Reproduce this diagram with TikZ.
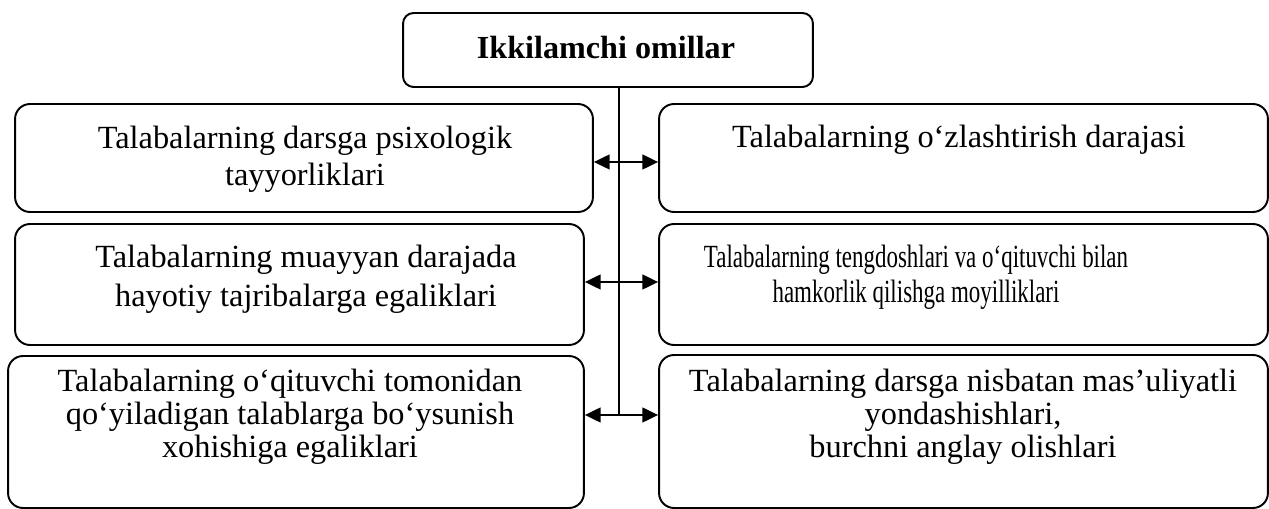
\documentclass[tikz,border=0pt]{standalone}
\usepackage{fontspec}
\setmainfont{Liberation Serif}
\newfontfamily\narrowfont[FakeStretch=0.71]{Liberation Serif}
\usetikzlibrary{arrows.meta,positioning}

\begin{document}
\begin{tikzpicture}[
  x=0.02cm, y=-0.02cm,
  box/.style={draw, line width=1.1pt, rounded corners=8.5pt, inner sep=0pt},
  txt/.style={align=center, inner sep=0pt,
              font=\fontsize{18.4pt}{21.2pt}\selectfont},
  tight/.style={font=\fontsize{18.4pt}{18.9pt}\selectfont},
  link/.style={line width=1pt, {Triangle[length=9pt,width=8.5pt]}-{Triangle[length=9pt,width=8.5pt]}},
]
  \useasboundingbox (0,0) rectangle (1269,509);
  %% head
  \node[box, rounded corners=6pt, minimum width=8.2cm, minimum height=1.48cm] (head) at (608,50) {};
  \node[txt, font=\fontsize{18.3pt}{21pt}\selectfont\bfseries] (headtxt) at (606,48) {Ikkilamchi omillar};
  %% left column
  \node[box, minimum width=11.56cm, minimum height=2.16cm] (left1) at (304,158) {};
  \node[box, minimum width=11.38cm, minimum height=2.42cm] (left2) at (299.5,284.5) {};
  \node[box, minimum width=11.52cm, minimum height=3.04cm] (left3) at (296,432) {};
  %% right column
  \node[box, minimum width=12.18cm, minimum height=2.16cm] (right1) at (963.5,158) {};
  \node[box, minimum width=12.18cm, minimum height=2.42cm] (right2) at (963.5,284.5) {};
  \node[box, minimum width=12.18cm, minimum height=3.06cm] (right3) at (963.5,431.5) {};
  %% texts
  \node[txt] (left1txt) at (305,159) {Talabalarning darsga psixologik\\tayyorliklari};
  \node[txt, font=\fontsize{18.4pt}{22pt}\selectfont] (left2txt) at (306,279) {Talabalarning muayyan darajada\\hayotiy tajribalarga egaliklari};
  \node[txt, tight] (left3txt) at (290,417) {Talabalarning o‘qituvchi tomonidan\\qo‘yiladigan talablarga bo‘ysunish\\xohishiga egaliklari};
  \node[txt] (right1txt) at (959,140) {Talabalarning o‘zlashtirish darajasi};
  \node[txt, font=\fontsize{18.4pt}{20pt}\narrowfont] (right2txt) at (916,277) {Talabalarning tengdoshlari va o‘qituvchi bilan\\hamkorlik qilishga moyilliklari};
  \node[txt, tight] (right3txt) at (963,417) {Talabalarning darsga nisbatan mas’uliyatli\\yondashishlari,\\burchni anglay olishlari};
  %% connectors
  \coordinate (hub) at (619,415);
  \draw[line width=0.7pt] (head.south -| hub) -- (hub);
  \draw[link] (left1.east |- 0,162) -- (right1.west |- 0,162);
  \draw[link] (left2.east |- 0,282) -- (right2.west |- 0,282);
  \draw[link] (left3.east |- hub) -- (right3.west |- hub);
\end{tikzpicture}
\end{document}
